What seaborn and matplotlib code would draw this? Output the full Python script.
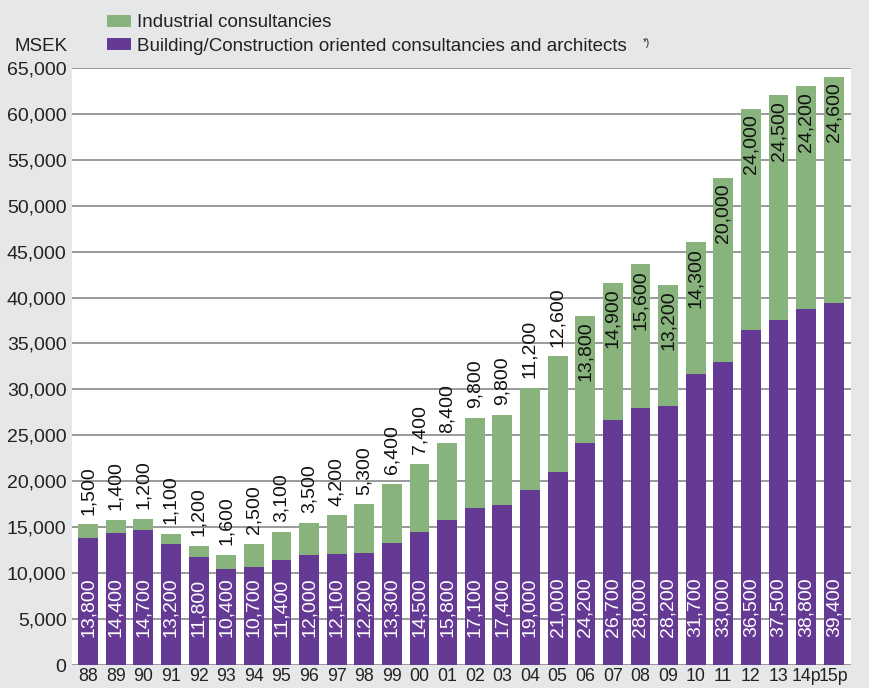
import matplotlib
matplotlib.use("Agg")
import matplotlib.pyplot as plt
import matplotlib.ticker as mticker
from matplotlib.patches import Patch
import seaborn as sns
import pandas as pd

# data (MSEK)
years = ['88', '89', '90', '91', '92', '93', '94', '95', '96', '97', '98', '99', '00', '01',
         '02', '03', '04', '05', '06', '07', '08', '09', '10', '11', '12', '13', '14p', '15p']
building = [13800, 14400, 14700, 13200, 11800, 10400, 10700, 11400, 12000, 12100, 12200, 13300,
            14500, 15800, 17100, 17400, 19000, 21000, 24200, 26700, 28000, 28200, 31700, 33000,
            36500, 37500, 38800, 39400]
industrial = [1500, 1400, 1200, 1100, 1200, 1600, 2500, 3100, 3500, 4200, 5300, 6400, 7400, 8400,
              9800, 9800, 11200, 12600, 13800, 14900, 15600, 13200, 14300, 20000, 24000, 24500,
              24200, 24600]
yticks = list(range(0, 65001, 5000))

df = pd.DataFrame({'year': years, 'building': building, 'industrial': industrial})
df['total'] = df['building'] + df['industrial']

purple = '#653a94'
green = '#88b37c'
bg = '#e6e7e9'

sns.set_style("white")
plt.rcParams['font.family'] = ['Liberation Sans', 'DejaVu Sans']

fig = plt.figure(figsize=(8.69, 6.88), dpi=100, facecolor=bg)
ax = fig.add_axes([0.083, 0.0334, 0.896, 0.868])
ax.set_facecolor('white')

# stacked bars: total in green, building part drawn on top in purple
sns.barplot(data=df, x='year', y='total', color=green, width=0.72, saturation=1, ax=ax,
            zorder=3, linewidth=0, edgecolor='none')
sns.barplot(data=df, x='year', y='building', color=purple, width=0.72, saturation=1, ax=ax,
            zorder=4, linewidth=0, edgecolor='none')

ax.set_ylim(0, 65000)
ax.set_xlim(-0.58, len(years) - 1 + 0.615)
ax.set_yticks(yticks)
ax.yaxis.set_major_formatter(mticker.FuncFormatter(lambda v, p: f'{int(v):,}'))
ax.yaxis.grid(True, color='#9a9a9a', linewidth=1.4, zorder=0)
ax.set_axisbelow(True)
for s in ax.spines.values():
    s.set_visible(False)
ax.tick_params(axis='y', length=0, labelsize=14, colors='#222222', pad=4)
ax.tick_params(axis='x', length=0, labelsize=12.8, colors='#222222', pad=2)
ax.set_xlabel('')
ax.set_ylabel('')

# value labels
for i, row in df.iterrows():
    ax.annotate(f"{row['building']:,}", xy=(i, 0), xytext=(0, 20), textcoords='offset points',
                rotation=90, ha='center', va='bottom', color='white', fontsize=14, zorder=6)
    if row['industrial'] >= 13000:
        ax.annotate(f"{row['industrial']:,}", xy=(i, row['total']), xytext=(0, -4),
                    textcoords='offset points', rotation=90, ha='center', va='top',
                    color='#111111', fontsize=14, zorder=6)
    else:
        ax.annotate(f"{row['industrial']:,}", xy=(i, row['total']), xytext=(0, 7),
                    textcoords='offset points', rotation=90, ha='center', va='bottom',
                    color='#111111', fontsize=14, zorder=6)

handles = [Patch(facecolor=green, edgecolor='none', label='Industrial consultancies'),
           Patch(facecolor=purple, edgecolor='none',
                 label='Building/Construction oriented consultancies and architects')]
fig.legend(handles=handles, loc='upper left', bbox_to_anchor=(0.123, 0.979), frameon=False,
           borderpad=0, borderaxespad=0, fontsize=13.5, handlelength=1.3, handleheight=0.6,
           handletextpad=0.32, labelspacing=0.35, labelcolor='#222222')
fig.text(0.74, 0.93, '*)', fontsize=7, color='#222222', va='bottom')
fig.text(0.078, 0.933, 'MSEK', fontsize=13.5, color='#222222', ha='right', va='center')

plt.savefig('out.png', dpi=100, facecolor=bg)
